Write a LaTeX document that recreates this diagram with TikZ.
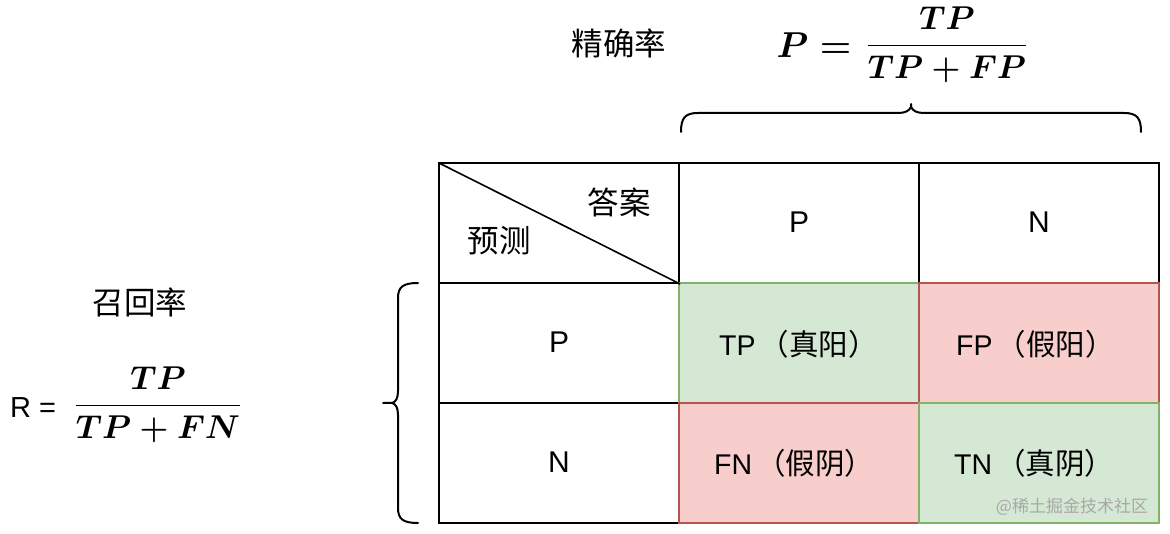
\RequirePackage{fix-cm}
\documentclass[tikz,border=0pt]{standalone}
\usepackage{amsmath}
\usepackage[no-math]{fontspec}
\setmainfont{Liberation Sans}
\newfontfamily\cjk{Noto Sans CJK SC}
\definecolor{gfill}{HTML}{D5E8D4}
\definecolor{gline}{HTML}{82B366}
\definecolor{rfill}{HTML}{F8CECC}
\definecolor{rline}{HTML}{B85450}
\definecolor{wm}{HTML}{A8A8A8}
\newcommand{\cellcjk}[1]{{\cjk\fontsize{29.5}{34}\selectfont #1}}
\tikzset{
  cell/.style={draw=black, line width=2pt, minimum width=240pt, minimum height=120pt, inner sep=0pt, fill=white},
  gcell/.style={draw=gline, line width=1.6pt, fill=gfill, minimum width=240pt, minimum height=120pt, inner sep=0pt},
  rcell/.style={draw=rline, line width=1.6pt, fill=rfill, minimum width=240pt, minimum height=120pt, inner sep=0pt},
  lbl/.style={font=\fontsize{30}{36}\selectfont, inner sep=0pt},
  clbl/.style={font=\fontsize{28.5}{34}\selectfont, inner sep=0pt, anchor=west},
  cjklbl/.style={font=\cjk\fontsize{31.5}{38}\selectfont, inner sep=0pt},
  brace/.style={draw=black, line width=2pt, line cap=round},
  mth/.style={font=\fontsize{33}{39}\selectfont\boldmath, inner sep=0pt}
}
\begin{document}
\begin{tikzpicture}[x=1pt,y=-1pt]
\useasboundingbox (0,0) rectangle (1170,534);
% table
\node[cell] (h0) at (559,223) {};
\node[cell] (hP) at (799,223) {};
\node[cell] (hN) at (1039,223) {};
\node[cell] (rP) at (559,343) {};
\node[cell] (rN) at (559,463) {};
\node[gcell] (tp) at (799,343) {};
\node[rcell] (fn) at (799,463) {};
\node[rcell] (fp) at (1039,343) {};
\node[gcell] (tn) at (1039,463) {};
\draw[line width=1.6pt] ([shift={(1pt,-1pt)}]h0.north west) -- (h0.south east);
% header texts
\node[cjklbl] (ans) at (619,202) {答案};
\node[cjklbl] (pred) at (499,241) {预测};
\node[lbl] (tP) at (799,222) {P};
\node[lbl] (tN) at (1039,222) {N};
\node[lbl] (lP) at (559,342) {P};
\node[lbl] (lN) at (559,462) {N};
\node[clbl] (ttp) at (719,344) {TP\hspace{4pt}\cellcjk{（真阳）}};
\node[clbl] (tfp) at (956,344) {FP\hspace{4pt}\cellcjk{（假阳）}};
\node[clbl] (tfn) at (714,463) {FN\hspace{4pt}\cellcjk{（假阴）}};
\node[clbl] (ttn) at (954,463) {TN\hspace{4pt}\cellcjk{（真阴）}};
% titles
\node[cjklbl] (prec) at (619,43) {精确率};
\node[cjklbl] (rec) at (140,302) {召回率};
% precision formula
\node[font=\fontsize{36}{42}\selectfont\boldmath, inner sep=0pt] (peq) at (814,45) {$P =$};
\node[mth, anchor=base] (pfrac) at (947,54) {$\displaystyle\frac{TP}{TP+FP}$};
% recall formula
\node[font=\fontsize{29}{34}\selectfont, inner sep=0pt] (req) at (33,408) {R =};
\node[mth, anchor=base] (rfrac) at (158,414) {$\displaystyle\frac{TP}{TP+FN}$};
% top brace
\draw[brace] (681,132) .. controls (681,118) and (685,113) .. (698,113) -- (898,113)
  .. controls (905,113) and (909,111) .. (911,107) -- (911,104);
\draw[brace] (911,107) .. controls (913,111) and (917,113) .. (924,113) -- (1124,113)
  .. controls (1137,113) and (1141,118) .. (1141,132);
% left brace
\draw[brace] (418,283) .. controls (403,283) and (398,287) .. (398,298) -- (398,391)
  .. controls (398,398) and (396,402) .. (392,403) -- (383,403);
\draw[brace] (392,403) .. controls (396,404) and (398,408) .. (398,415) -- (398,508)
  .. controls (398,519) and (403,523) .. (418,523);
% watermark
\node[text=wm, font=\cjk\fontsize{17}{20}\selectfont, inner sep=0pt] (wmk) at (1072,507) {@稀土掘金技术社区};
\end{tikzpicture}
\end{document}
